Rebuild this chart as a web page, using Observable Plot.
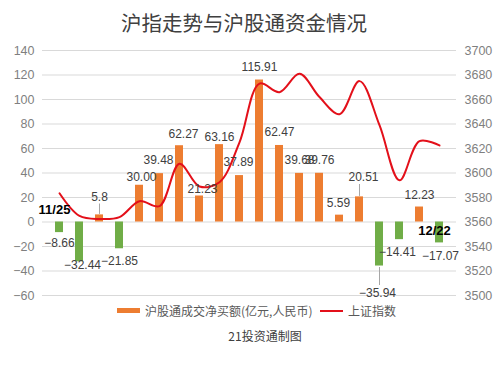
<!DOCTYPE html>
<html>
<head>
<meta charset="utf-8">
<script src="https://cdn.jsdelivr.net/npm/d3@7"></script>
<script src="https://cdn.jsdelivr.net/npm/@observablehq/plot@0.6"></script>
<style>
  html, body { margin: 0; padding: 0; background: #fff; }
  #wrap { position: relative; width: 500px; height: 369px; overflow: hidden;
          font-family: "Liberation Sans", Arial, "Noto Sans CJK SC", sans-serif; }
  #wrap svg { position: absolute; left: 0; top: 0; }
  .ov { position: absolute; white-space: nowrap; font-family: "Noto Sans CJK SC", "Liberation Sans", sans-serif; }
</style>
</head>
<body>
<div id="wrap"></div>
<script>
// ---- data ----
const dates = ["11/25","11/26","11/29","11/30","12/01","12/02","12/03","12/06","12/07","12/08",
               "12/09","12/10","12/13","12/14","12/15","12/16","12/17","12/20","12/21","12/22"];
const netBuy = [-8.66, -32.44, 5.8, -21.85, 30.00, 39.48, 62.27, 21.23, 63.16, 37.89,
                115.91, 62.47, 39.68, 39.76, 5.59, 20.51, -35.94, -14.41, 12.23, -17.07];
const netBuyLabels = ["\u22128.66","\u221232.44","5.8","\u221221.85","30.00","39.48","62.27","21.23","63.16","37.89",
                      "115.91","62.47","39.68","39.76","5.59","20.51","\u221235.94","\u221214.41","12.23","\u221217.07"];
const shIndex = [3583.5, 3565, 3562.5, 3564, 3577, 3573, 3607.5, 3589, 3592.5, 3625,
                 3673, 3666, 3681, 3662, 3648, 3675, 3639, 3594, 3626, 3622.5];
const leftTicks = [-60, -40, -20, 0, 20, 40, 60, 80, 100, 120, 140];
const rightTicks = [3500, 3520, 3540, 3560, 3580, 3600, 3620, 3640, 3660, 3680, 3700];
const indexOffset = 3560; // right axis value = left axis value + 3560
const endLabels = ["11/25", "12/22"];

// ---- layout nudges for data labels (pixels) ----
const nudge = {0:[0,11],1:[3,3],2:[0,-18],3:[0,12],4:[2,-8],5:[-1,-13],6:[4,-12],7:[3,-7],8:[0,-7],
               9:[-1,-13],10:[0,-13],11:[0,-13],12:[0,-13],13:[0,-13],14:[-1,-12],15:[4,-20],
               16:[-2,27],17:[-2,13],18:[0,-12],19:[1,13]};

const bars = dates.map((d, i) => ({date: d, value: netBuy[i], label: netBuyLabels[i], i}));
const line = dates.map((d, i) => ({date: d, v: shIndex[i] - indexOffset}));
// leader lines (data units of left axis)
const leaders = [
  {date: dates[2], y1: netBuy[2] + 0.8, y2: netBuy[2] + 9.3},
  {date: dates[15], y1: netBuy[15] + 0.8, y2: netBuy[15] + 10.5},
  {date: dates[16], y1: netBuy[16] - 0.8, y2: netBuy[16] - 15.5}
];

const labelMarks = bars.map(b => Plot.text([b], {
  x: "date", y: "value", text: "label",
  dx: nudge[b.i][0], dy: nudge[b.i][1],
  fill: "#404040", fontSize: 12
}));

const chart = Plot.plot({
  width: 500, height: 369,
  marginTop: 50, marginBottom: 74, marginLeft: 42, marginRight: 44,
  style: {fontFamily: "'Liberation Sans', Arial, 'Noto Sans CJK SC', sans-serif", fontSize: "12px", background: "transparent"},
  x: {type: "band", domain: dates, padding: 0.61, axis: null},
  y: {domain: [-60, 140], axis: null},
  marks: [
    Plot.gridY(leftTicks, {stroke: "#d9d9d9", strokeOpacity: 1, strokeWidth: 1}),
    Plot.axisY(leftTicks, {anchor: "left", tickSize: 0, tickPadding: 8, fill: "#7f7f7f", fontSize: 12.5,
                           tickFormat: d => d < 0 ? "\u2212" + Math.abs(d) : String(d)}),
    Plot.axisY(leftTicks, {anchor: "right", tickSize: 0, tickPadding: 8, fill: "#7f7f7f", fontSize: 12.5,
                           tickFormat: d => String(d + indexOffset)}),
    Plot.barY(bars.filter(d => d.value >= 0), {x: "date", y1: 0, y2: "value", fill: "#ED7D31"}),
    Plot.barY(bars.filter(d => d.value < 0), {x: "date", y1: 0, y2: "value", fill: "#70AD47"}),
    Plot.link(leaders, {x1: "date", x2: "date", y1: "y1", y2: "y2", stroke: "#a6a6a6", strokeWidth: 1}),
    Plot.line(line, {x: "date", y: "v", curve: "catmull-rom", stroke: "#E3101A", strokeWidth: 2}),
    ...labelMarks,
    Plot.text([endLabels[0]], {x: d => d, y: 0, text: d => d, dx: -5, dy: -12, fontWeight: "bold", fontSize: 13, fill: "#000"}),
    Plot.text([endLabels[1]], {x: d => d, y: 0, text: d => d, dx: -5, dy: 9, fontWeight: "bold", fontSize: 13, fill: "#000"})
  ]
});

const wrap = document.getElementById("wrap");
wrap.appendChild(chart);

function ov(html, css) {
  const el = document.createElement("div");
  el.className = "ov";
  el.innerHTML = html;
  Object.assign(el.style, css);
  wrap.appendChild(el);
  return el;
}
// title
ov("沪指走势与沪股通资金情况", {left: "0", width: "488px", textAlign: "center", top: "8px",
   fontSize: "20.5px", color: "#404040", lineHeight: "28px"});
// legend
ov("", {left: "117px", top: "308px", width: "23px", height: "5px", background: "#ED7D31"});
ov("沪股通成交净买额(亿元,人民币)", {left: "145px", top: "302px", fontSize: "12px", color: "#595959", lineHeight: "18px"});
ov("", {left: "320px", top: "310px", width: "23px", height: "2px", background: "#E3101A"});
ov("上证指数", {left: "348px", top: "302px", fontSize: "12px", color: "#595959", lineHeight: "18px"});
// caption
ov("21投资通制图", {left: "0", width: "530px", textAlign: "center", top: "327px", fontSize: "12px", color: "#404040", lineHeight: "18px"});
</script>
</body>
</html>
